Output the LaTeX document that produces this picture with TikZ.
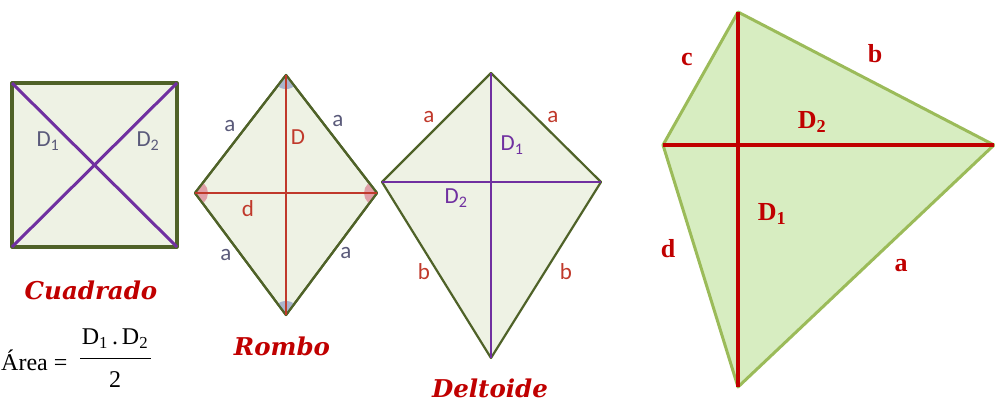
\documentclass[tikz,border=0pt]{standalone}
\usepackage{fontspec}
\setmainfont{Liberation Serif}
\newfontfamily\lblfont{Carlito}
\newfontfamily\ttlfont{DejaVu Serif}
\definecolor{sqfill}{HTML}{EEF2E4}
\definecolor{sqline}{HTML}{4F6228}
\definecolor{purp}{HTML}{7030A0}
\definecolor{rhred}{HTML}{C0392B}
\definecolor{dred}{HTML}{C00000}
\definecolor{kfill}{HTML}{D7EDC1}
\definecolor{kline}{HTML}{9BBB59}
\definecolor{lblgray}{HTML}{5A5A7A}
\definecolor{angblue}{HTML}{A9B4CC}
\definecolor{angpink}{HTML}{E0A0A8}
\tikzset{
  shape1/.style={fill=sqfill, draw=sqline, line width=3.2pt, line join=round},
  shape2/.style={fill=sqfill, draw=sqline, line width=2.2pt, line join=round},
  diagp/.style={draw=purp, line width=3pt},
  diagr/.style={draw=rhred, line width=2.2pt},
  lbl/.style={font=\lblfont\fontsize{23}{23}\selectfont, inner sep=0pt},
  ttl/.style={font=\ttlfont\bfseries\itshape\fontsize{24.5}{24.5}\selectfont, text=dred, inner sep=0pt},
  kl/.style={font=\bfseries\fontsize{26}{26}\selectfont, text=dred, inner sep=0pt},
  fml/.style={font=\fontsize{24}{24}\selectfont, inner sep=0pt},
}
\begin{document}
\begin{tikzpicture}[x=1pt,y=-1pt]
\useasboundingbox (0,0) rectangle (995,405);
% Square
\coordinate (sa) at (12,83);
\coordinate (sb) at (177,83);
\coordinate (sc) at (177,247);
\coordinate (sd) at (12,247);
\path[shape1] (sa) -- (sb) -- (sc) -- (sd) -- cycle;
\draw[diagp] (sa) -- (sc);
\draw[diagp] (sb) -- (sd);
\node[lbl, text=lblgray] (sD1) at (48,141) {D\textsubscript{1}};
\node[lbl, text=lblgray] (sD2) at (148,141) {D\textsubscript{2}};
\node[ttl] (tcuad) at (91,290) {Cuadrado};
% Rhombus
\coordinate (rt) at (286,75);
\coordinate (rl) at (195,193);
\coordinate (rr) at (377,193);
\coordinate (rb) at (286,315);
\path[shape2] (rt) -- (rr) -- (rb) -- (rl) -- cycle;
\begin{scope}
\clip (rt) -- (rr) -- (rb) -- (rl) -- cycle;
\fill[angblue] (rt) circle[radius=14];
\fill[angblue] (rb) circle[radius=14];
\fill[angpink] (rl) circle[radius=13];
\fill[angpink] (rr) circle[radius=13];
\end{scope}
\draw[sqline, line width=2.2pt, line join=round] (rt) -- (rr) -- (rb) -- (rl) -- cycle;
\draw[diagr] (rt) -- (rb);
\draw[diagr] (rl) -- (rr);
\node[lbl, text=lblgray] (ra1) at (230,126) {a};
\node[lbl, text=lblgray] (ra2) at (338,121) {a};
\node[lbl, text=rhred] (rD) at (298,137) {D};
\node[lbl, text=rhred] (rd) at (248,209) {d};
\node[lbl, text=lblgray] (ra3) at (226,255) {a};
\node[lbl, text=lblgray] (ra4) at (346,253) {a};
\node[ttl] (trombo) at (282,346) {Rombo};
% Deltoide
\coordinate (dt) at (491,73);
\coordinate (dl) at (382,182);
\coordinate (dr) at (601,182);
\coordinate (db) at (491,358);
\path[shape2] (dt) -- (dr) -- (db) -- (dl) -- cycle;
\draw[purp, line width=2.2pt] (dt) -- (db);
\draw[purp, line width=2.2pt] (dl) -- (dr);
\node[lbl, text=rhred] (da1) at (429,117) {a};
\node[lbl, text=rhred] (da2) at (553,117) {a};
\node[lbl, text=purp] (dD1) at (512,145) {D\textsubscript{1}};
\node[lbl, text=purp] (dD2) at (456,198) {D\textsubscript{2}};
\node[lbl, text=rhred] (db1) at (424,272) {b};
\node[lbl, text=rhred] (db2) at (566,272) {b};
\node[ttl] (tdelt) at (490,388) {Deltoide};
% Big kite
\coordinate (kt) at (738,12);
\coordinate (kl) at (663,145);
\coordinate (kr) at (994,145);
\coordinate (kb) at (738,387);
\path[fill=kfill, draw=kline, line width=3pt, line join=round] (kt) -- (kr) -- (kb) -- (kl) -- cycle;
\draw[dred, line width=3.6pt] (kt) -- (kb);
\draw[dred, line width=3.6pt] (kl) -- (kr);
\node[kl] (kc) at (687,59) {c};
\node[kl] (kbb) at (875,54) {b};
\node[kl] (kD2) at (812,122) {D\textsubscript{2}};
\node[kl] (kD1) at (772,214) {D\textsubscript{1}};
\node[kl] (kd) at (668,249) {d};
\node[kl] (ka) at (901,266) {a};
% Formula
\node[fml, anchor=west] (farea) at (1,360) {Área =};
\node[fml] (fnum) at (115,339) {D\textsubscript{1}\,.\,D\textsubscript{2}};
\node[fml] (fden) at (115,380) {2};
\coordinate (fl) at (80,358);
\coordinate (fr) at (151,358);
\draw[line width=0.9pt] (fl) -- (fr);
\end{tikzpicture}
\end{document}
